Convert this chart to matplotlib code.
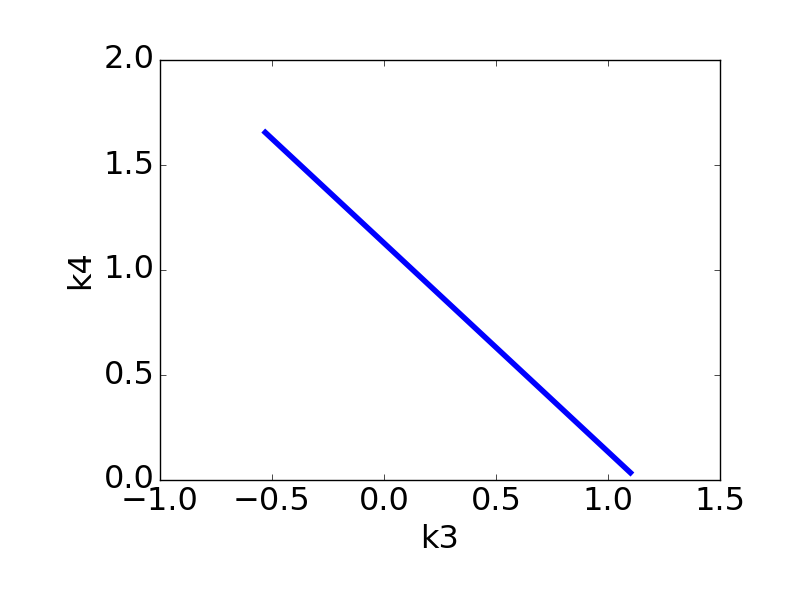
import matplotlib
matplotlib.use('Agg')
import matplotlib.pyplot as plt

# end points of the k3/k4 line
k3 = [-0.53, 1.1]
k4 = [1.655, 0.035]

plt.style.use('classic')
plt.rcParams['font.size'] = 23
plt.rcParams['font.family'] = 'DejaVu Sans'

fig = plt.figure(figsize=(8, 6), dpi=100)
fig.subplots_adjust(left=0.2, right=0.9, top=0.9, bottom=0.2)
ax = fig.add_subplot(111)
ax.plot(k3, k4, color='b', linewidth=4)
ax.set_xlim(-1.0, 1.5)
ax.set_ylim(0.0, 2.0)
ax.set_xticks([-1.0, -0.5, 0.0, 0.5, 1.0, 1.5])
ax.set_yticks([0.0, 0.5, 1.0, 1.5, 2.0])
ax.set_xlabel('k3')
ax.set_ylabel('k4')
fig.savefig('out.png', dpi=100, facecolor='white')
